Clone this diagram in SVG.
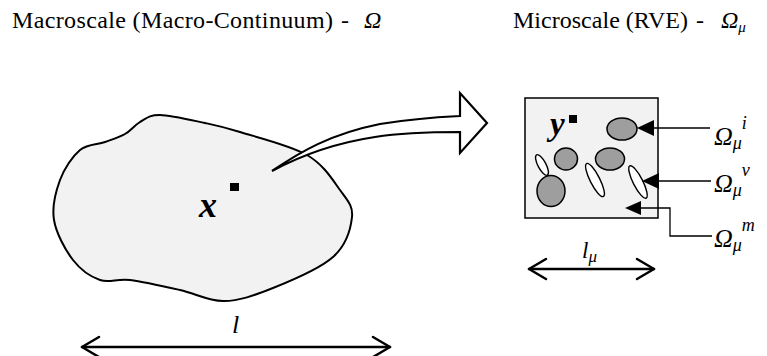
<svg xmlns="http://www.w3.org/2000/svg" width="767" height="356" viewBox="0 0 767 356">
<style>
text{font-family:'Liberation Serif','DejaVu Serif',serif;fill:#000}
.it{font-style:italic}
.bi{font-style:italic;font-weight:bold}
.ln{stroke:#000;fill:none}
.gray{fill:#9e9e9e;stroke:#000;stroke-width:1.5}
.wh{fill:#fff;stroke:#000;stroke-width:1.4}
</style>
<g id="titles" font-family="Liberation Serif">
<text x="12" y="28" font-size="24" textLength="321" lengthAdjust="spacing">Macroscale (Macro-Continuum)</text>
<text x="341" y="28" font-size="24">-</text>
<text class="it" x="364" y="28" font-size="24">Ω</text>
<text x="513" y="28" font-size="24" textLength="175" lengthAdjust="spacing">Microscale (RVE)</text>
<text x="696" y="28" font-size="24">-</text>
<text class="it" x="721" y="28" font-size="24">Ω<tspan font-size="15" dy="4">μ</tspan></text>
</g>
<g id="macro">
<path d="M160,115 C170.8,115.2 191.7,120.2 205,123 C218.3,125.8 223,126.7 240,132 C257,137.3 290.3,145.3 307,155 C323.7,164.7 332.5,179.7 340,190 C347.5,200.3 353.2,205.8 352,217 C350.8,228.2 346.2,245.2 333,257 C319.8,268.8 291.3,280.7 273,288 C254.7,295.3 238.5,301.3 223,301 C207.5,300.7 195.5,293.5 180,290 C164.5,286.5 143.3,281.7 130,280 C116.7,278.3 109.5,283.3 100,280 C90.5,276.7 80.7,270 73,260 C65.3,250 56.2,233.3 54,220 C51.8,206.7 55.7,191.7 60,180 C64.3,168.3 72.5,156.3 80,150 C87.5,143.7 97.5,144.7 105,142 C112.5,139.3 119.2,137.3 125,134 C130.8,130.7 134.2,125.5 140,122 C145.8,118.8 149.2,114.8 160,115 Z" fill="#f2f2f2" stroke="#000" stroke-width="2"/>
<rect x="230" y="183" width="9" height="8" fill="#000"/>
<text class="bi" x="199" y="217" font-size="36" font-family="Liberation Serif">x</text>
</g>
<g id="rve">
<rect x="525" y="98" width="133" height="120" fill="#f2f2f2" stroke="#000" stroke-width="1.5"/>
<ellipse class="gray" cx="622" cy="129" rx="15" ry="11"/>
<ellipse class="gray" cx="566" cy="159" rx="11.5" ry="11"/>
<ellipse class="gray" cx="610" cy="159" rx="14.5" ry="11"/>
<ellipse class="gray" cx="551" cy="191" rx="14" ry="15.5"/>
<ellipse class="wh" cx="542" cy="165" rx="11.5" ry="4" transform="rotate(62 542 165)"/>
<ellipse class="wh" cx="595" cy="180" rx="18.5" ry="4.8" transform="rotate(63 595 180)"/>
<ellipse class="wh" cx="638" cy="182" rx="18" ry="4.8" transform="rotate(63 638 182)"/>
<rect x="569" y="115" width="8" height="8" fill="#000"/>
<text class="bi" x="550" y="135" font-size="33" font-family="Liberation Serif">y</text>
</g>
<g id="labels" font-family="Liberation Serif">
<text class="it" x="714" y="145" font-size="26">Ω<tspan font-size="18" dy="4">μ</tspan><tspan font-size="18" dy="-20">i</tspan></text>
<text class="it" x="714" y="192" font-size="26">Ω<tspan font-size="18" dy="4">μ</tspan><tspan font-size="18" dy="-20">v</tspan></text>
<text class="it" x="714" y="247" font-size="26">Ω<tspan font-size="18" dy="4">μ</tspan><tspan font-size="18" dy="-20">m</tspan></text>
<text class="it" x="232" y="333" font-size="26">l</text>
<text class="it" x="582" y="258" font-size="23">l<tspan font-size="17" dy="4">μ</tspan></text>
</g>
<g id="connectors">
<path d="M272,171 C300,152 330,134 380,124 C410,119 440,117 460,116 L460,93 L487,123 L460,153 L460,132 C430,132 400,133 375,137 C335,143 300,156 272,171 Z" fill="#fff" stroke="#000" stroke-width="2.2" stroke-linejoin="miter"/>
<line class="ln" x1="652" y1="128" x2="710" y2="128" stroke-width="1.3"/>
<polygon points="637,128 654,120 654,136" fill="#000"/>
<line class="ln" x1="657" y1="181" x2="711" y2="181" stroke-width="1.3"/>
<polygon points="642,181 659,173 659,189" fill="#000"/>
<polyline class="ln" points="639,208 670,208 670,236 712,236" stroke-width="1.3"/>
<polygon points="625,208 641,201 641,215" fill="#000"/>
<g class="ln" stroke-width="2.5" stroke-linecap="round" stroke-linejoin="round">
<line x1="82" y1="347" x2="390" y2="347"/>
<polyline points="99,337 82,347 99,357"/>
<polyline points="373,337 390,347 373,357"/>
<line x1="529" y1="269" x2="654" y2="269"/>
<polyline points="546,259 529,269 546,279"/>
<polyline points="637,259 654,269 637,279"/>
</g>
</g>
</svg>
